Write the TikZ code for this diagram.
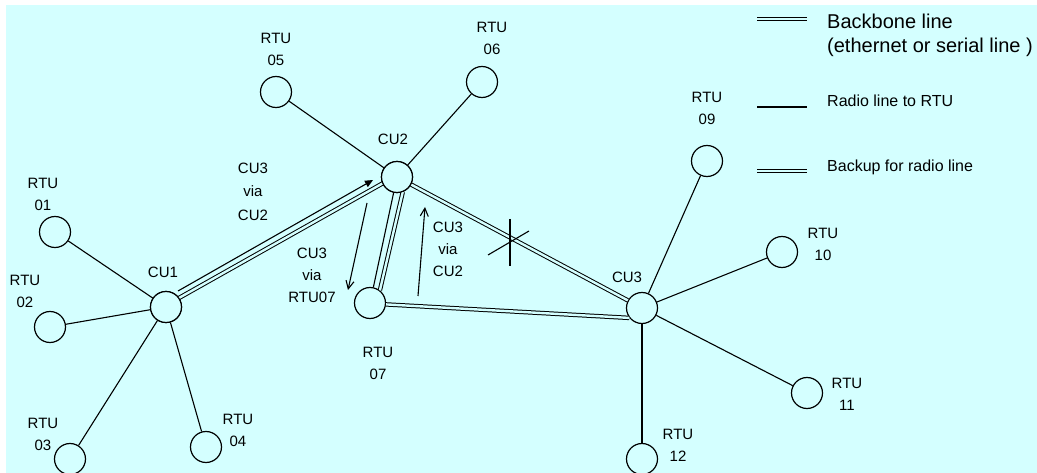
\documentclass[tikz,border=0pt]{standalone}
\usepackage{fontspec}
\setmainfont{Liberation Sans}
\usetikzlibrary{arrows.meta,calc}
\definecolor{panel}{RGB}{212,255,255}
\tikzset{
  station/.style={circle,draw,line width=1.2pt,minimum size=31pt,inner sep=0pt,fill=panel},
  radio/.style={line width=1.1pt},
  twin/.style={line width=1pt,double=panel,double distance=2.4pt},
  lbl/.style={font=\fontsize{15}{22}\selectfont,align=center,inner sep=0pt},
  legbig/.style={font=\fontsize{20}{26}\selectfont,anchor=west,inner sep=0pt},
  legsmall/.style={font=\fontsize{16}{20}\selectfont,anchor=west,inner sep=0pt},
  route/.style={line width=1.1pt,-{Straight Barb[length=8pt,width=8pt,line width=1.1pt]}},
  mainroute/.style={line width=1.1pt,-{Triangle[length=8pt,width=7pt]}},
}
\begin{document}
\begin{tikzpicture}[x=1pt,y=-1pt]
  \useasboundingbox (0,0) rectangle (1037,473);
  \fill[panel] (6,5) rectangle (1037,473);

  % control units
  \node[station] (CU1) at (166,307) {};
  \node[station] (CU2) at (397,177) {};
  \node[station] (CU3) at (642,308) {};

  % remote terminal units
  \node[station] (R01) at (55,232) {};
  \node[station] (R02) at (50,327) {};
  \node[station] (R03) at (70,459) {};
  \node[station] (R04) at (206,447) {};
  \node[station] (R05) at (276,92) {};
  \node[station] (R06) at (482,82) {};
  \node[station] (R07) at (370,303) {};
  \node[station] (R09) at (707,161) {};
  \node[station] (R10) at (782,252) {};
  \node[station] (R11) at (807,393) {};
  \node[station] (R12) at (642,459) {};

  % labels
  \node[lbl] (tCU1) at (163,272) {CU1};
  \node[lbl] (tCU2) at (393,139) {CU2};
  \node[lbl] (tCU3) at (627,277) {CU3};
  \node[lbl] (t01) at (43,194) {RTU\\01};
  \node[lbl] (t02) at (25,291.5) {RTU\\02};
  \node[lbl] (t03) at (43,434.5) {RTU\\03};
  \node[lbl] (t04) at (238,430) {RTU\\04};
  \node[lbl] (t05) at (276,49.5) {RTU\\05};
  \node[lbl] (t06) at (492,38.5) {RTU\\06};
  \node[lbl] (t07) at (378,363) {RTU\\07};
  \node[lbl] (t09) at (707,108) {RTU\\09};
  \node[lbl] (t10) at (823,244.5) {RTU\\10};
  \node[lbl] (t11) at (847,394.5) {RTU\\11};
  \node[lbl] (t12) at (678,445.5) {RTU\\12};
  \node[lbl,font=\fontsize{15}{23.5}\selectfont] (viaA) at (253,191.5) {CU3\\via\\CU2};
  \node[lbl] (viaB) at (312,275) {CU3\\via\\RTU07};
  \node[lbl] (viaC) at (448,249) {CU3\\via\\CU2};

  % radio lines
  \foreach \r in {R01,R02,R03,R04} \draw[radio] (CU1) -- (\r);
  \foreach \r in {R05,R06,R07} \draw[radio] (CU2) -- (\r);
  \foreach \r in {R09,R10,R11,R12} \draw[radio] (CU3) -- (\r);

  % backbone and backup lines
  \draw[twin] ($(CU1)!1.5pt!90:(CU2)$) -- ($(CU2)!1.5pt!-90:(CU1)$);
  \draw[twin] (CU2) -- (CU3);
  \draw[twin] (CU2.291) -- (R07.52);
  \draw[twin] (R07.355) -- (CU3.218);
  \node[station] at (CU1) {};
  \node[station] at (CU2) {};

  % routing arrows
  \coordinate (a1s) at (178,291);
  \coordinate (a1e) at (373,180);
  \coordinate (a2s) at (367,203);
  \coordinate (a2e) at (348,290);
  \coordinate (a3s) at (418,296);
  \coordinate (a3e) at (425,207);
  \draw[mainroute] (a1s) -- (a1e);
  \draw[route] (a2s) -- (a2e);
  \draw[route] (a3s) -- (a3e);

  % broken link mark
  \coordinate (x1) at (510,219);
  \coordinate (x2) at (510,266);
  \coordinate (x3) at (488,255);
  \coordinate (x4) at (529,231);
  \draw[radio] (x1) -- (x2);
  \draw[radio] (x3) -- (x4);

  % legend
  \coordinate (l1a) at (757,19);  \coordinate (l1b) at (807,19);
  \coordinate (l2a) at (757,107); \coordinate (l2b) at (807,107);
  \coordinate (l3a) at (757,171); \coordinate (l3b) at (807,171);
  \draw[twin] (l1a) -- (l1b);
  \draw[radio] (l2a) -- (l2b);
  \draw[twin] (l3a) -- (l3b);
  \node[legbig] (g1) at (827,21) {Backbone line};
  \node[legbig] (g2) at (827,47) {(ethernet or serial line )};
  \node[legsmall] (g3) at (827,101) {Radio line to RTU};
  \node[legsmall] (g4) at (827,167) {Backup for radio line};
\end{tikzpicture}
\end{document}
